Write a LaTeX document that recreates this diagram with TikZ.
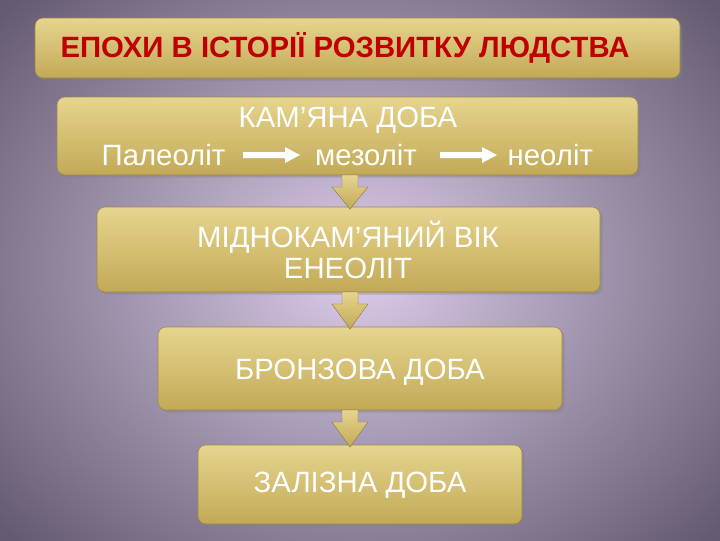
\documentclass[tikz,border=0pt]{standalone}
\usepackage{fontspec}
\setmainfont{Liberation Sans}
\usetikzlibrary{shadows}
\definecolor{goldT}{HTML}{E6D58E}
\definecolor{goldB}{HTML}{C2A957}
\definecolor{bgIn}{HTML}{DCCDEB}
\definecolor{bgOut}{HTML}{655B70}
\definecolor{titleRed}{HTML}{C00000}
\tikzset{
 box/.style={rounded corners=6pt, top color=goldT, bottom color=goldB, draw=goldB!80!black, line width=0.4pt, drop shadow={opacity=0.4,shadow xshift=2pt,shadow yshift=-2pt}},
 wtxt/.style={text=white, font=\fontsize{22}{26}\selectfont},
 dnarrow/.style={top color=goldT, bottom color=goldB, draw=goldB!70!black, line width=0.3pt}
}
\begin{document}
\begin{tikzpicture}[x=0.75pt,y=-0.75pt]
\useasboundingbox (0,0) rectangle (720,540);
\clip (0,0) rectangle (720,540);
\shade[inner color=bgIn, outer color=bgOut] (-120,-120) rectangle (840,660);
% boxes
\path[box] (35,18) rectangle (680,78);
\path[box] (57,97) rectangle (638,175);
\path[box] (97,207) rectangle (600,292);
\path[box] (158,327) rectangle (562,410);
\path[box] (198,445) rectangle (522,524);
% down arrows
\foreach \a/\b in {175/207,292/327,410/445}{
 \path[dnarrow] (342,\a) -- (358,\a) -- (358,\a+12) -- (368,\a+12) -- (350,\b+2) -- (332,\a+12) -- (342,\a+12) -- cycle;
}
% texts
\node[text=titleRed, font=\bfseries\fontsize{22}{26}\selectfont] (t) at (345,48) {ЕПОХИ В ІСТОРІЇ РОЗВИТКУ ЛЮДСТВА};
\node[wtxt] (k) at (348,120) {КАМ’ЯНА ДОБА};
\node[wtxt, anchor=east] (p) at (230,155) {Палеоліт};
\node[wtxt] (m) at (366,155) {мезоліт};
\node[wtxt, anchor=west] (n) at (503,155) {неоліт};
\fill[white] (243,152) -- (285,152) -- (285,147) -- (300,155) -- (285,163) -- (285,158) -- (243,158) -- cycle;
\fill[white] (440,152) -- (482,152) -- (482,147) -- (497,155) -- (482,163) -- (482,158) -- (440,158) -- cycle;
\node[wtxt] (c1) at (348,237) {МІДНОКАМ’ЯНИЙ ВІК};
\node[wtxt] (c2) at (348,268) {ЕНЕОЛІТ};
\node[wtxt] (b) at (360,372) {БРОНЗОВА ДОБА};
\node[wtxt] (i) at (360,485) {ЗАЛІЗНА ДОБА};
\end{tikzpicture}
\end{document}
